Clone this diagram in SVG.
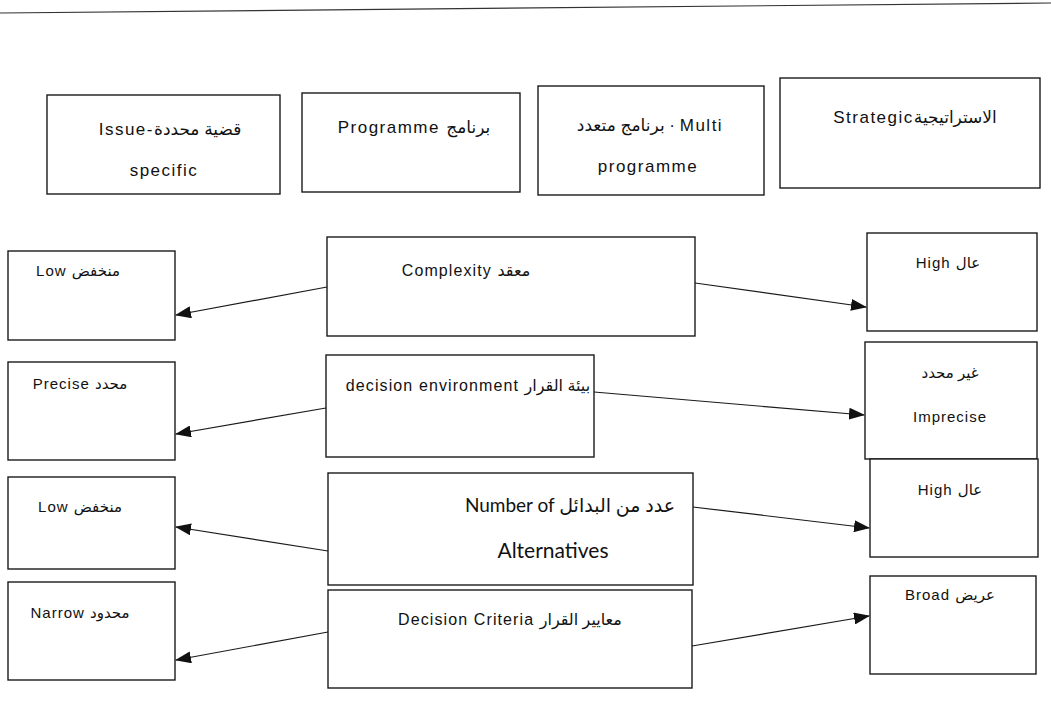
<svg xmlns="http://www.w3.org/2000/svg" width="1051" height="712" viewBox="0 0 1051 712">
<style>
.box{fill:#fff;stroke:#1a1a1a;stroke-width:1.4}
.t{font-family:"Liberation Sans","DejaVu Sans",sans-serif;font-size:15px;letter-spacing:1px;fill:#111;text-anchor:middle;direction:ltr}
.m{font-family:"Liberation Sans","DejaVu Sans",sans-serif;font-size:16px;letter-spacing:1.1px;fill:#111;text-anchor:middle;direction:ltr}
.tt{font-family:"Liberation Sans","DejaVu Sans",sans-serif;font-size:17px;letter-spacing:1.5px;fill:#111;text-anchor:middle;direction:ltr}
.big{font-family:Lato,"DejaVu Sans",sans-serif;font-size:21px;fill:#111;text-anchor:middle;direction:ltr}
.c{stroke:#1a1a1a;stroke-width:1.2;fill:none;marker-end:url(#ah)}
</style>
<defs>
<marker id="ah" markerUnits="userSpaceOnUse" markerWidth="16" markerHeight="12" refX="15" refY="6" orient="auto">
<path d="M0,0 L16,6 L0,12 Z" fill="#111"/>
</marker>
</defs>
<rect width="1051" height="712" fill="#fff"/>
<line x1="0" y1="13" x2="1051" y2="3" stroke="#333" stroke-width="1.2"/>

<g id="top-issue"><rect class="box" x="47" y="95" width="233" height="99"/>
<text class="tt" x="170" y="135">Issue-قضية محددة</text>
<text class="tt" x="164" y="176">specific</text></g>
<g id="top-programme"><rect class="box" x="302" y="93" width="218" height="99"/>
<text class="tt" x="414" y="133">Programme برنامج</text></g>
<g id="top-multi"><rect class="box" x="538" y="86" width="226" height="109"/>
<text class="tt" x="650" y="131">برنامج متعدد · Multi</text>
<text class="tt" x="648" y="172">programme</text></g>
<g id="top-strategic"><rect class="box" x="780" y="78" width="260" height="110"/>
<text class="tt" x="915" y="123">Strategicالاستراتيجية</text></g>

<g id="left-low1"><rect class="box" x="8" y="251" width="167" height="89"/>
<text class="t" x="78" y="276">Low منخفض</text></g>
<g id="left-precise"><rect class="box" x="8" y="362" width="167" height="98"/>
<text class="t" x="80" y="389">Precise محدد</text></g>
<g id="left-low2"><rect class="box" x="8" y="477" width="167" height="92"/>
<text class="t" x="80" y="512">Low منخفض</text></g>
<g id="left-narrow"><rect class="box" x="8" y="582" width="167" height="98"/>
<text class="t" x="80" y="618">Narrow محدود</text></g>

<g id="center-complexity"><rect class="box" x="327" y="237" width="368" height="99"/>
<text class="m" x="466" y="276">Complexity معقد</text></g>
<g id="center-environment"><rect class="box" x="326" y="355" width="268" height="102"/>
<text class="m" x="468" y="391">decision environment  بيئة القرار</text></g>
<g id="center-alternatives"><rect class="box" x="328" y="473" width="365" height="112"/>
<text class="big" x="570" y="512" style="font-size:19px">Number of عدد من البدائل</text>
<text class="big" x="553" y="558">Alternatives</text></g>
<g id="center-criteria"><rect class="box" x="328" y="590" width="364" height="98"/>
<text class="m" x="510" y="625">Decision Criteria معايير القرار</text></g>

<g id="right-high1"><rect class="box" x="867" y="233" width="170" height="98"/>
<text class="t" x="948" y="268">High  عال</text></g>
<g id="right-imprecise"><rect class="box" x="865" y="342" width="172" height="117"/>
<text class="t" x="950" y="378">غير محدد</text>
<text class="t" x="950" y="422">Imprecise</text></g>
<g id="right-high2"><rect class="box" x="870" y="459" width="168" height="98"/>
<text class="t" x="950" y="495">High عال</text></g>
<g id="right-broad"><rect class="box" x="870" y="576" width="166" height="98"/>
<text class="t" x="950" y="600">Broad عريض</text></g>

<g id="connectors">
<line class="c" x1="327" y1="287" x2="176" y2="315"/>
<line class="c" x1="326" y1="408" x2="176" y2="434"/>
<line class="c" x1="328" y1="551" x2="176" y2="527"/>
<line class="c" x1="328" y1="632" x2="176" y2="660"/>
<line class="c" x1="695" y1="283" x2="866" y2="307"/>
<line class="c" x1="594" y1="392" x2="864" y2="415"/>
<line class="c" x1="693" y1="507" x2="869" y2="528"/>
<line class="c" x1="692" y1="646" x2="869" y2="616"/>
</g>
</svg>
